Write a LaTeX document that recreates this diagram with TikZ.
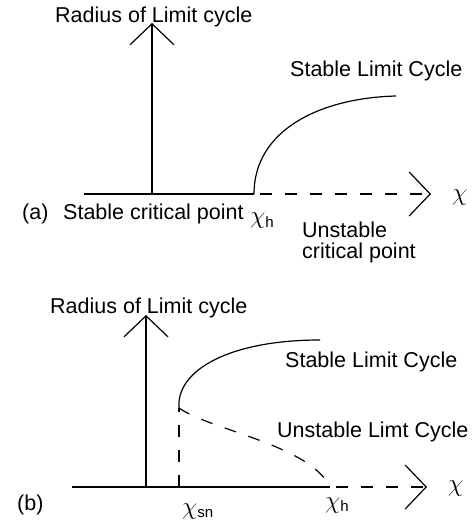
\documentclass[tikz,border=0pt]{standalone}
\usepackage{fontspec}
\setmainfont{Liberation Sans}
\usetikzlibrary{arrows.meta}
\newcommand{\chisym}{{\fontsize{24}{24}\selectfont$\chi$}}

\begin{document}
\begin{tikzpicture}[x=1pt,y=-1pt,
    font=\fontsize{21.5}{21}\selectfont,
    lbl/.style={inner sep=0pt,anchor=base west},
    axis/.style={line width=1.2pt,-{Straight Barb[length=21pt,width=44pt]}},
    solidline/.style={line width=1.2pt},
    dashline/.style={line width=1.2pt,dash pattern=on 12pt off 13pt}
  ]
    \useasboundingbox (0,0) rectangle (473,526);
    % (a) supercritical
    \coordinate (aL) at (84,194);
    \coordinate (aO) at (152,194);
    \coordinate (aH) at (254,194);
    \coordinate (aX) at (431,194);
    \coordinate (aY) at (152,23);
    \coordinate (aU) at (396,96);
    \draw[solidline] (aL) -- (aH);
    \draw[axis] (aO) -- (aY);
    \draw[axis,dash pattern=on 12pt off 13pt,dash phase=-6pt] (aH) -- (aX);
    \draw[solidline] (aH) .. controls (254,130) and (320,98) .. (aU);
    \node[lbl] (aylab) at (55,23) {Radius of Limit cycle};
    \node[lbl] (aslc) at (290,77) {Stable Limit Cycle};
    \node[lbl] (atag) at (22,220) {(a)};
    \node[lbl] (ascp) at (63,220) {Stable critical point};
    \node[lbl] (ahopf) at (250,224) {\chisym\textsubscript{h}};
    \node[inner sep=0pt,anchor=north west,align=left] (aucp) at (302,222) {Unstable\\critical point};
    \node[lbl] (achi) at (452,201) {\chisym};
    % (b) subcritical
    \coordinate (bL) at (72,487);
    \coordinate (bO) at (146,487);
    \coordinate (bSN) at (179,487);
    \coordinate (bN) at (179,408);
    \coordinate (bH) at (330,487);
    \coordinate (bX) at (427,487);
    \coordinate (bY) at (146,315);
    \coordinate (bU) at (320,340);
    \draw[solidline] (bL) -- (bH);
    \draw[axis] (bO) -- (bY);
    \draw[axis,dash pattern=on 12pt off 13pt,dash phase=-6pt] (bH) -- (bX);
    \draw[dashline] (bSN) -- (bN);
    \draw[solidline] (bN) .. controls (176,370) and (230,340) .. (bU);
    \draw[dashline] (bN) .. controls (210,430) and (310,445) .. (bH);
    \node[lbl] (bylab) at (50,313) {Radius of Limit cycle};
    \node[lbl] (bslc) at (285,367) {Stable Limit Cycle};
    \node[lbl] (bulc) at (277,437) {Unstable Limt Cycle};
    \node[lbl] (btag) at (17,510) {(b)};
    \node[lbl] (bsn) at (182,514) {\chisym\textsubscript{sn}};
    \node[lbl] (bhopf) at (325,508) {\chisym\textsubscript{h}};
    \node[lbl] (bchi) at (448,491) {\chisym};
\end{tikzpicture}
\end{document}
